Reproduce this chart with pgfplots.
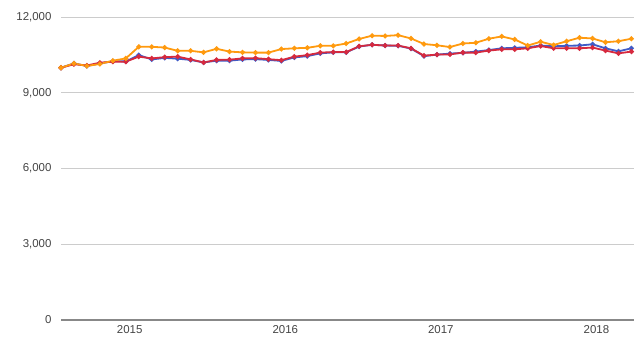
\documentclass[border=0pt]{standalone}
\usepackage{pgfplots}
\pgfplotsset{compat=1.18}
\usepackage{fontspec}
\setmainfont{Liberation Sans}
\definecolor{cblue}{HTML}{3F5BC7}
\definecolor{cred}{HTML}{D6293E}
\definecolor{corange}{HTML}{FF9A0F}
\definecolor{ctext}{HTML}{444444}
\definecolor{cgrid}{HTML}{CCCCCC}
\definecolor{caxis}{HTML}{888888}
\pgfplotstableread{
i blue red orange
0 9990 9990 9990
1 10160 10130 10160
2 10060 10080 10060
3 10160 10190 10140
4 10250 10230 10270
5 10240 10230 10360
6 10490 10430 10820
7 10320 10360 10820
8 10380 10410 10790
9 10350 10430 10660
10 10300 10320 10660
11 10200 10200 10600
12 10270 10300 10740
13 10270 10310 10630
14 10320 10360 10600
15 10330 10370 10590
16 10300 10330 10590
17 10260 10290 10730
18 10400 10430 10760
19 10450 10490 10780
20 10560 10590 10860
21 10600 10610 10860
22 10600 10610 10950
23 10830 10840 11130
24 10900 10900 11260
25 10870 10870 11250
26 10860 10870 11280
27 10750 10760 11150
28 10450 10470 10930
29 10510 10510 10880
30 10550 10520 10810
31 10580 10590 10950
32 10630 10590 10980
33 10690 10670 11140
34 10760 10720 11230
35 10780 10720 11110
36 10800 10760 10870
37 10870 10850 11020
38 10840 10760 10890
39 10860 10760 11040
40 10870 10760 11180
41 10920 10790 11150
42 10760 10670 11000
43 10640 10560 11040
44 10760 10630 11140
}\data
\begin{document}
\begin{tikzpicture}
\begin{axis}[
  scale only axis,
  width=573bp, height=303bp,
  xmin=0, xmax=44.2,
  ymin=0, ymax=12000,
  scaled y ticks=false,
  ytick={0,3000,6000,9000,12000},
  yticklabels={0,{3,000},{6,000},{9,000},{12,000}},
  xtick={5.3,17.3,29.3,41.3},
  xticklabels={2015,2016,2017,2018},
  axis line style={draw=none},
  tick style={draw=none},
  ymajorgrids,
  grid style={cgrid, line width=0.8bp},
  ticklabel style={font=\fontsize{11.5}{13}\selectfont, text=ctext},
  yticklabel style={xshift=-6bp},
  xticklabel style={yshift=-2bp},
  clip=false,
]
\draw[caxis, line width=1.3bp] (axis cs:0,0) -- (axis cs:44.2,0);
\addplot[cblue, line width=1.8bp, mark=*, mark size=1.5bp] table[x=i,y=blue]{\data};
\addplot[cred, line width=1.8bp, mark=*, mark size=1.5bp] table[x=i,y=red]{\data};
\addplot[corange, line width=1.8bp, mark=*, mark size=1.5bp] table[x=i,y=orange]{\data};
\end{axis}
\path (current axis.south west) ++(-61bp,-35bp) rectangle ++(640bp,355bp);
\end{tikzpicture}
\end{document}
